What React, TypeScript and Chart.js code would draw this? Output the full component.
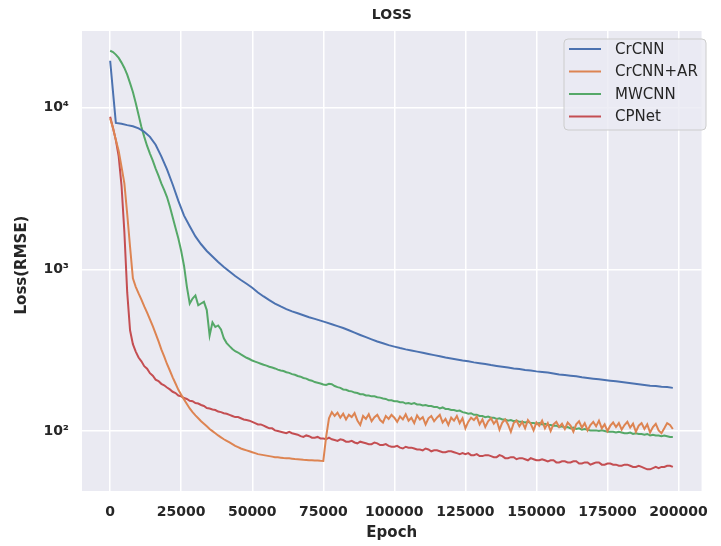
import React, { useEffect, useRef } from "react";
import { Chart, registerables } from "chart.js";
Chart.register(...registerables);

// Epochs for the smooth CrCNN curve (every 2000)
const epochs = [
  0, 2000, 4000, 6000, 8000, 10000, 12000, 14000, 16000, 18000,
  20000, 22000, 24000, 26000, 28000, 30000, 32000, 34000, 36000, 38000,
  40000, 42000, 44000, 46000, 48000, 50000, 52000, 54000, 56000, 58000,
  60000, 62000, 64000, 66000, 68000, 70000, 72000, 74000, 76000, 78000,
  80000, 82000, 84000, 86000, 88000, 90000, 92000, 94000, 96000, 98000,
  100000, 102000, 104000, 106000, 108000, 110000, 112000, 114000, 116000, 118000,
  120000, 122000, 124000, 126000, 128000, 130000, 132000, 134000, 136000, 138000,
  140000, 142000, 144000, 146000, 148000, 150000, 152000, 154000, 156000, 158000,
  160000, 162000, 164000, 166000, 168000, 170000, 172000, 174000, 176000, 178000,
  180000, 182000, 184000, 186000, 188000, 190000, 192000, 194000, 196000, 198000,
];

// Epochs for the noisy curves (every 1000)
const epochsFine = [
  0, 1000, 2000, 3000, 4000, 5000, 6000, 7000, 8000, 9000,
  10000, 11000, 12000, 13000, 14000, 15000, 16000, 17000, 18000, 19000,
  20000, 21000, 22000, 23000, 24000, 25000, 26000, 27000, 28000, 29000,
  30000, 31000, 32000, 33000, 34000, 35000, 36000, 37000, 38000, 39000,
  40000, 41000, 42000, 43000, 44000, 45000, 46000, 47000, 48000, 49000,
  50000, 51000, 52000, 53000, 54000, 55000, 56000, 57000, 58000, 59000,
  60000, 61000, 62000, 63000, 64000, 65000, 66000, 67000, 68000, 69000,
  70000, 71000, 72000, 73000, 74000, 75000, 76000, 77000, 78000, 79000,
  80000, 81000, 82000, 83000, 84000, 85000, 86000, 87000, 88000, 89000,
  90000, 91000, 92000, 93000, 94000, 95000, 96000, 97000, 98000, 99000,
  100000, 101000, 102000, 103000, 104000, 105000, 106000, 107000, 108000, 109000,
  110000, 111000, 112000, 113000, 114000, 115000, 116000, 117000, 118000, 119000,
  120000, 121000, 122000, 123000, 124000, 125000, 126000, 127000, 128000, 129000,
  130000, 131000, 132000, 133000, 134000, 135000, 136000, 137000, 138000, 139000,
  140000, 141000, 142000, 143000, 144000, 145000, 146000, 147000, 148000, 149000,
  150000, 151000, 152000, 153000, 154000, 155000, 156000, 157000, 158000, 159000,
  160000, 161000, 162000, 163000, 164000, 165000, 166000, 167000, 168000, 169000,
  170000, 171000, 172000, 173000, 174000, 175000, 176000, 177000, 178000, 179000,
  180000, 181000, 182000, 183000, 184000, 185000, 186000, 187000, 188000, 189000,
  190000, 191000, 192000, 193000, 194000, 195000, 196000, 197000, 198000,
];

const crcnn = [
  19500, 8050, 7950, 7800, 7680, 7450, 7100, 6600, 5900, 5000,
  4150, 3350, 2650, 2150, 1850, 1600, 1430, 1300, 1200, 1110,
  1035, 970, 910, 860, 815, 770, 720, 680, 645, 615,
  590, 568, 550, 535, 520, 506, 494, 482, 470, 458,
  446, 434, 420, 406, 393, 381, 369, 358, 349, 340,
  333, 326, 320, 315, 310, 305, 300, 295, 290, 285,
  281, 277, 273, 270, 266, 263, 260, 256, 253, 250,
  247, 244, 242, 239, 237, 234, 232, 230, 227, 224,
  222, 220, 218, 215, 213, 211, 209, 207, 205, 203,
  201, 199, 197, 195, 193, 191, 190, 188, 187, 185,
];

const crcnnAr = [
  8590, 7500, 6300, 5400, 4300, 3400, 2200, 1380, 880, 780,
  710, 650, 590, 540, 490, 445, 400, 360, 320, 290,
  260, 237, 215, 197, 180, 168, 157, 147, 138, 131,
  125, 120, 115, 111, 107, 103, 100, 97, 94, 91.5,
  89, 87, 85, 83, 81, 79.5, 78, 77, 76, 75,
  74, 73, 72, 71.5, 71, 70.5, 70, 69.5, 69, 68.8,
  68.5, 68.2, 68, 67.8, 67.5, 67.2, 67, 66.8, 66.5, 66.3,
  66.1, 66, 65.8, 65.7, 65.5, 65.4, 92, 120, 131, 124,
  130, 121, 128, 118, 126, 122, 129, 116, 109, 124,
  119, 127, 115, 122, 126, 117, 113, 124, 119, 126,
  121, 114, 123, 118, 127, 116, 121, 112, 125, 118,
  122, 110, 120, 124, 115, 121, 126, 113, 119, 109,
  121, 116, 124, 112, 120, 104, 114, 121, 117, 123,
  110, 118, 106, 115, 120, 111, 117, 102, 113, 118,
  110, 99, 112, 116, 107, 114, 104, 117, 111, 101,
  113, 108, 116, 104, 112, 100, 110, 114, 106, 111,
  103, 113, 108, 99, 110, 115, 105, 112, 101, 109,
  114, 107, 116, 104, 110, 100, 108, 113, 106, 112,
  102, 109, 114, 105, 111, 99, 108, 112, 103, 110,
  98, 106, 111, 101, 97, 104, 112, 109, 103,
];

const mwcnn = [
  22500, 22100, 21300, 20300, 19000, 17600, 16000, 14200, 12500, 10700,
  9000, 7600, 6600, 5800, 5200, 4700, 4200, 3800, 3400, 3100,
  2800, 2450, 2100, 1800, 1550, 1300, 1050, 780, 615, 660,
  690, 600, 615, 630, 560, 390, 470, 440, 450, 425,
  375, 350, 335, 322, 312, 306, 298, 291, 284, 279,
  273, 269, 265, 261, 257, 254, 250, 247, 244, 240,
  237, 235, 231, 229, 225, 223, 219, 217, 213, 211,
  207, 205, 201, 199, 197, 194, 193, 196, 195, 190,
  187, 185, 181, 180, 177, 176, 173, 172, 169, 169,
  166, 166, 164, 164, 162, 161, 159, 158, 155, 155,
  153, 153, 151, 151, 148, 149, 147, 149, 146, 146,
  144, 145, 143, 143, 141, 141, 138, 140, 137, 137,
  135, 135, 133, 134, 131, 130, 128, 129, 126, 126,
  124, 124, 122, 123, 121, 121, 119, 120, 118, 118,
  116, 117, 115, 116, 114, 114, 113, 114, 112, 112,
  111, 112, 110, 111, 109, 109, 108, 108, 106, 107,
  105, 106, 104, 105, 103, 104, 102, 103, 102, 101,
  101, 101, 100, 101, 100, 99, 99, 99, 98, 99,
  98, 97, 97, 98, 96, 97, 96, 96, 95, 96,
  94, 95, 94, 94, 93, 94, 93, 92, 92,
];

const cpnet = [
  8790, 7500, 6300, 5000, 3300, 1700, 720, 420, 345, 310,
  285, 270, 252, 243, 228, 220, 208, 204, 196, 192,
  186, 181, 175, 172, 166, 164, 160, 158, 154, 153,
  149, 148, 145, 143, 139, 138, 136, 135, 132, 131,
  129, 128, 126, 124, 122, 122, 120, 118, 117, 116,
  114, 112, 110, 110, 108, 106, 104, 104, 101, 100,
  99, 98, 97, 99, 97, 96, 95, 93, 92, 94,
  93, 91, 91, 92, 90, 90, 89, 91, 89, 88,
  87, 89, 88, 86, 86, 87, 85, 84, 86, 85,
  84, 83, 83, 85, 84, 82, 82, 83, 81, 80,
  80, 81, 79, 78, 80, 79, 79, 78, 77, 77,
  76, 78, 77, 75, 76, 76, 75, 74, 74, 75,
  75, 74, 73, 72, 73, 72, 73, 71, 71, 72,
  70, 70, 71, 71, 70, 69, 69, 71, 70, 68,
  68, 69, 69, 67, 68, 68, 67, 66, 68, 67,
  66, 66, 67, 66, 65, 66, 66, 64, 64, 65,
  65, 64, 64, 65, 65, 63, 63, 64, 64, 62,
  63, 64, 64, 62, 62, 63, 63, 62, 62, 61,
  61, 62, 62, 61, 60, 60, 61, 60, 59, 58,
  58, 59, 60, 59, 60, 60, 61, 61, 60,
];

const seriesNames = ["CrCNN", "CrCNN+AR", "MWCNN", "CPNet"];
const seriesColors = ["#4C72B0", "#DD8452", "#55A868", "#C44E52"];
const seriesValues = [crcnn, crcnnAr, mwcnn, cpnet];
const seriesEpochs = [epochs, epochsFine, epochsFine, epochsFine];
const xTicks = [0, 25000, 50000, 75000, 100000, 125000, 150000, 175000, 200000];
const yTicks = [100, 1000, 10000];
const yTickLabels = ["10²", "10³", "10⁴"];

const FONT = "'DejaVu Sans', sans-serif";

const decorPlugin = {
  id: "decor",
  beforeDraw(chart: any) {
    const { ctx, chartArea } = chart;
    ctx.save();
    ctx.fillStyle = "#ffffff";
    ctx.fillRect(0, 0, chart.width, chart.height);
    ctx.fillStyle = "#EAEAF2";
    ctx.fillRect(chartArea.left, chartArea.top, chartArea.right - chartArea.left, chartArea.bottom - chartArea.top);
    ctx.restore();
  },
  afterDraw(chart: any) {
    const { ctx, chartArea } = chart;
    const cx = (chartArea.left + chartArea.right) / 2;
    const cy = (chartArea.top + chartArea.bottom) / 2;
    ctx.save();
    ctx.fillStyle = "#262626";
    ctx.textAlign = "center";
    ctx.textBaseline = "middle";
    ctx.font = `bold 14px ${FONT}`;
    ctx.fillText("LOSS", cx, 15);
    ctx.font = `bold 15px ${FONT}`;
    ctx.fillText("Epoch", cx, 533);
    ctx.save();
    ctx.translate(22, cy + 4);
    ctx.rotate(-Math.PI / 2);
    ctx.fillText("Loss(RMSE)", 0, 0);
    ctx.restore();

    // legend
    const bx = 564, by = 39, bw = 142, bh = 91, r = 4;
    ctx.beginPath();
    ctx.moveTo(bx + r, by);
    ctx.lineTo(bx + bw - r, by);
    ctx.quadraticCurveTo(bx + bw, by, bx + bw, by + r);
    ctx.lineTo(bx + bw, by + bh - r);
    ctx.quadraticCurveTo(bx + bw, by + bh, bx + bw - r, by + bh);
    ctx.lineTo(bx + r, by + bh);
    ctx.quadraticCurveTo(bx, by + bh, bx, by + bh - r);
    ctx.lineTo(bx, by + r);
    ctx.quadraticCurveTo(bx, by, bx + r, by);
    ctx.closePath();
    ctx.fillStyle = "rgba(234,234,242,0.8)";
    ctx.fill();
    ctx.strokeStyle = "#cccccc";
    ctx.lineWidth = 1;
    ctx.stroke();
    const rows = [49, 71.5, 94, 116.5];
    ctx.font = `15px ${FONT}`;
    ctx.textAlign = "left";
    ctx.textBaseline = "middle";
    seriesNames.forEach((name, i) => {
      ctx.strokeStyle = seriesColors[i];
      ctx.lineWidth = 2;
      ctx.beginPath();
      ctx.moveTo(569, rows[i]);
      ctx.lineTo(601, rows[i]);
      ctx.stroke();
      ctx.fillStyle = "#262626";
      ctx.fillText(name, 615, rows[i] + 1);
    });
    ctx.restore();
  },
};

export default function App() {
  const ref = useRef<HTMLCanvasElement | null>(null);
  useEffect(() => {
    if (!ref.current) return;
    const chart = new Chart(ref.current, {
      type: "line",
      data: {
        datasets: seriesNames.map((name, i) => ({
          label: name,
          data: seriesEpochs[i].map((x, j) => ({ x, y: seriesValues[i][j] })),
          borderColor: seriesColors[i],
          backgroundColor: seriesColors[i],
          borderWidth: 2,
          pointRadius: 0,
          tension: 0,
        })),
      },
      options: {
        animation: false,
        responsive: false,
        layout: { padding: { left: 0, right: 7, top: 31, bottom: 0 } },
        plugins: {
          legend: { display: false },
          title: { display: false },
          tooltip: { enabled: false },
        },
        scales: {
          x: {
            type: "linear",
            min: -9910,
            max: 208110,
            afterBuildTicks: (s: any) => {
              s.ticks = xTicks.map((v) => ({ value: v }));
            },
            afterFit: (s: any) => {
              s.height = 55;
            },
            grid: { color: "#ffffff", lineWidth: 1.5, drawTicks: false },
            border: { display: false },
            ticks: {
              padding: 13,
              maxRotation: 0,
              autoSkip: false,
              color: "#262626",
              font: { family: FONT, size: 14, weight: "bold" },
              callback: (v: any) => String(v),
            },
          },
          y: {
            type: "logarithmic",
            min: 42.6,
            max: 29800,
            afterBuildTicks: (s: any) => {
              s.ticks = yTicks.map((v) => ({ value: v }));
            },
            afterFit: (s: any) => {
              s.width = 82;
            },
            grid: { color: "#ffffff", lineWidth: 1.5, drawTicks: false },
            border: { display: false },
            ticks: {
              padding: 13,
              autoSkip: false,
              color: "#262626",
              font: { family: FONT, size: 14, weight: "bold" },
              callback: (v: any) => {
                const k = yTicks.indexOf(Number(v));
                return k >= 0 ? yTickLabels[k] : "";
              },
            },
          },
        },
      },
      plugins: [decorPlugin],
    });
    return () => chart.destroy();
  }, []);
  return (
    <div style={{ position: "absolute", left: 0, top: 0, width: 721, height: 546 }}>
      <canvas ref={ref} width={721} height={546} style={{ width: 721, height: 546 }} />
    </div>
  );
}
